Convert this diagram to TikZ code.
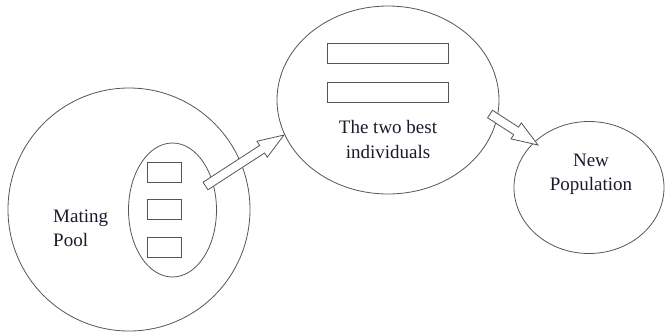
\documentclass[tikz,border=0pt]{standalone}
\usepackage{fontspec}
\setmainfont{Liberation Serif}
\usetikzlibrary{shapes.geometric,calc}
\definecolor{linegray}{HTML}{555555}
\definecolor{textcol}{HTML}{1A1A2A}
\tikzset{
  shapeline/.style={draw=linegray, line width=0.8pt, inner sep=0pt, outer sep=0pt},
  oval/.style={shapeline, ellipse},
  slot/.style={shapeline, rectangle},
  lbl/.style={text=textcol, font=\fontsize{19}{23.5}\selectfont, inner sep=0pt},
  pics/blockarrow/.style={code={
    \draw[draw=linegray, line width=0.8pt, fill=white, line join=miter]
      (0,-4.5) -- ({#1-26},-4.5) -- ({#1-26},-9.5) -- (#1,0) -- ({#1-26},9.5) -- ({#1-26},4.5) -- (0,4.5) -- cycle;
  }}
}
\begin{document}
\begin{tikzpicture}[x=1pt, y=-1pt]
\useasboundingbox (0,0) rectangle (665,333);
% Mating pool
\node[oval, minimum width=242pt, minimum height=243pt] (pool) at (129,209.5) {};
\node[oval, minimum width=88pt, minimum height=134pt] (sel) at (172.5,210) {};
\node[slot, minimum width=34pt, minimum height=20pt] (r1) at (164,172) {};
\node[slot, minimum width=34pt, minimum height=20pt] (r2) at (164,209.5) {};
\node[slot, minimum width=34pt, minimum height=20pt] (r3) at (164,247) {};
\node[lbl, anchor=west, align=left] (mp) at (53,228.5) {Mating\\Pool};
% two best
\node[oval, minimum width=222pt, minimum height=188pt] (best) at (388,100) {};
\node[slot, minimum width=121pt, minimum height=20pt] (b1) at (388,53) {};
\node[slot, minimum width=121pt, minimum height=20pt] (b2) at (388,92) {};
\node[lbl, align=center, font=\fontsize{19}{24.5}\selectfont] (bt) at (388,139.5) {The two best\\individuals};
% new population
\node[oval, minimum width=150pt, minimum height=132pt] (newpop) at (589,187.5) {};
\node[lbl, align=center] (np) at (591,174.5) {New\\Population};
% arrows
\coordinate (a1s) at (205.5,186);
\coordinate (a1e) at (284,135);
\coordinate (a2s) at (490,114);
\coordinate (a2e) at (538,145);
\path let \p1=($(a1e)-(a1s)$), \n1={atan2(\y1,\x1)}, \n2={veclen(\x1,\y1)} in
  pic[rotate=\n1] at (a1s) {blockarrow=\n2};
\path let \p1=($(a2e)-(a2s)$), \n1={atan2(\y1,\x1)}, \n2={veclen(\x1,\y1)} in
  pic[rotate=\n1] at (a2s) {blockarrow=\n2};
\end{tikzpicture}
\end{document}
